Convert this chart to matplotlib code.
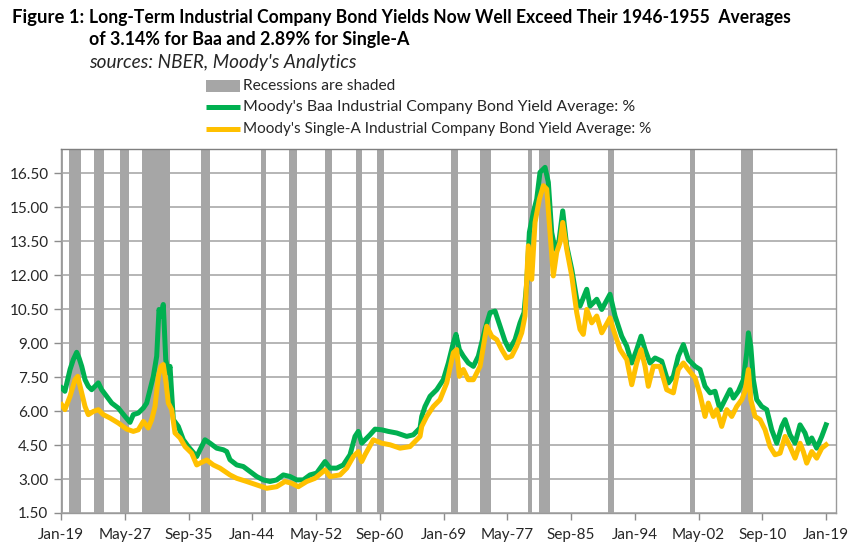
import matplotlib
matplotlib.use("Agg")
import matplotlib.pyplot as plt
from matplotlib.patches import Rectangle
from matplotlib.lines import Line2D
import numpy as np

# ---------------- data (decimal years) ----------------
baa_year = [1919.09, 1919.51, 1920.18, 1920.61, 1921.05, 1921.35, 1921.71, 1922.14, 1922.57, 1923.01,
            1923.44, 1923.88, 1924.32, 1924.97, 1925.63, 1926.49, 1927.37, 1928.02, 1928.45, 1929.10,
            1929.76, 1930.20, 1930.63, 1931.07, 1931.51, 1931.81, 1932.07, 1932.37, 1932.69, 1933.03,
            1933.25, 1933.68, 1934.33, 1934.99, 1935.64, 1936.74, 1937.17, 1937.82, 1938.48, 1939.35,
            1940.22, 1940.66, 1941.09, 1941.97, 1942.83, 1943.71, 1944.58, 1945.44, 1946.32, 1947.19,
            1948.06, 1948.93, 1949.81, 1950.67, 1951.55, 1952.42, 1953.51, 1954.16, 1955.04, 1955.90,
            1956.78, 1957.43, 1957.86, 1958.31, 1958.74, 1959.39, 1960.05, 1960.92, 1961.78, 1962.88,
            1964.19, 1965.05, 1965.93, 1966.15, 1966.58, 1967.24, 1968.11, 1968.97, 1969.63, 1970.28,
            1970.63, 1971.07, 1971.59, 1972.24, 1972.90, 1973.55, 1974.42, 1975.08, 1975.73, 1976.39,
            1977.04, 1977.60, 1978.35, 1979.00, 1979.52, 1979.88, 1980.22, 1980.74, 1981.18, 1981.61,
            1982.27, 1982.70, 1983.14, 1983.58, 1984.01, 1984.58, 1985.10, 1985.76, 1986.41, 1986.84,
            1987.72, 1988.15, 1989.03, 1989.68, 1990.76, 1991.42, 1992.29, 1992.95, 1993.60, 1994.25,
            1994.82, 1995.34, 1995.99, 1996.65, 1997.52, 1998.39, 1999.04, 1999.69, 2000.35, 2001.00,
            2001.88, 2002.53, 2003.18, 2003.84, 2004.49, 2005.14, 2005.80, 2006.45, 2006.89, 2007.54,
            2008.19, 2008.63, 2008.85, 2009.16, 2009.50, 2009.94, 2010.59, 2011.25, 2011.90, 2012.56,
            2013.21, 2013.64, 2014.29, 2014.95, 2015.60, 2016.25, 2016.69, 2017.13, 2017.78, 2018.44,
            2019.00]
baa_value = [7.02, 6.87, 7.83, 8.27, 8.59, 8.35, 7.97, 7.38, 7.09, 6.94,
             7.09, 7.24, 6.94, 6.65, 6.35, 6.13, 5.76, 5.50, 5.84, 5.91,
             6.13, 6.35, 6.94, 7.53, 8.42, 10.48, 10.19, 10.70, 8.27, 7.68,
             7.97, 5.62, 5.32, 4.73, 4.43, 3.99, 4.29, 4.73, 4.58, 4.36,
             4.29, 4.21, 3.85, 3.62, 3.55, 3.33, 3.11, 2.96, 2.89, 2.96,
             3.18, 3.11, 2.96, 2.96, 3.18, 3.26, 3.77, 3.48, 3.48, 3.62,
             4.07, 4.88, 5.10, 4.58, 4.73, 4.95, 5.20, 5.17, 5.10, 5.03,
             4.88, 4.95, 5.25, 5.76, 6.20, 6.65, 6.94, 7.38, 8.12, 9.00,
             9.38, 8.71, 8.42, 8.12, 7.97, 8.42, 9.60, 10.34, 10.41, 9.74,
             9.08, 8.71, 9.15, 9.89, 10.34, 11.66, 13.88, 14.76, 15.35, 16.53,
             16.75, 16.09, 13.88, 13.14, 13.29, 14.83, 13.29, 12.25, 10.93, 10.63,
             11.37, 10.63, 10.93, 10.48, 11.15, 10.19, 9.30, 8.86, 8.12, 8.71,
             9.30, 8.71, 8.12, 8.34, 8.20, 7.24, 7.53, 8.42, 8.93, 8.27,
             7.97, 7.83, 7.09, 6.80, 6.87, 6.06, 6.50, 6.94, 6.57, 6.87,
             7.38, 8.57, 9.45, 8.86, 7.38, 6.50, 6.20, 6.06, 5.17, 4.58,
             5.32, 5.62, 4.95, 4.58, 5.39, 5.03, 4.58, 4.81, 4.36, 4.88,
             5.39]

a_year = [1919.09, 1919.51, 1920.18, 1920.83, 1921.18, 1921.61, 1922.14, 1922.57, 1923.22, 1923.88,
          1924.53, 1925.41, 1926.49, 1927.59, 1928.45, 1929.10, 1929.76, 1930.41, 1930.86, 1931.29,
          1931.72, 1932.07, 1932.37, 1932.73, 1933.03, 1933.47, 1933.90, 1934.56, 1935.21, 1936.08,
          1936.74, 1937.17, 1938.05, 1938.91, 1939.78, 1941.09, 1941.97, 1943.27, 1944.58, 1945.89,
          1947.19, 1948.28, 1949.16, 1950.02, 1951.12, 1952.20, 1953.51, 1954.16, 1955.47, 1956.35,
          1957.21, 1957.86, 1958.31, 1958.74, 1959.82, 1960.92, 1962.01, 1963.31, 1964.62, 1965.93,
          1966.15, 1966.80, 1967.67, 1968.54, 1969.42, 1970.28, 1970.72, 1971.07, 1971.59, 1972.24,
          1972.90, 1973.77, 1974.65, 1975.30, 1975.95, 1976.61, 1977.26, 1977.91, 1978.56, 1979.22,
          1979.65, 1980.08, 1980.53, 1980.96, 1981.53, 1982.05, 1982.49, 1982.92, 1983.35, 1983.79,
          1984.23, 1984.58, 1985.10, 1985.76, 1986.41, 1986.84, 1987.27, 1987.72, 1988.37, 1989.03,
          1989.68, 1990.76, 1991.20, 1992.07, 1992.95, 1993.60, 1994.25, 1994.82, 1995.34, 1995.77,
          1996.42, 1997.30, 1998.17, 1999.04, 1999.69, 2000.35, 2001.00, 2001.88, 2002.53, 2003.18,
          2003.61, 2004.27, 2004.71, 2005.36, 2006.02, 2006.67, 2007.32, 2007.98, 2008.41, 2008.85,
          2009.16, 2009.72, 2010.37, 2011.03, 2011.68, 2012.33, 2012.99, 2013.64, 2014.29, 2014.95,
          2015.60, 2016.03, 2016.47, 2017.13, 2017.78, 2018.44, 2019.00]
a_value = [6.28, 6.06, 6.65, 7.38, 7.53, 6.94, 6.20, 5.84, 5.98, 6.06,
           5.84, 5.69, 5.47, 5.20, 5.10, 5.17, 5.54, 5.25, 5.62, 6.20,
           7.53, 7.97, 8.05, 7.24, 6.35, 6.06, 5.03, 4.81, 4.43, 4.14,
           3.62, 3.70, 3.84, 3.62, 3.48, 3.18, 3.03, 2.89, 2.74, 2.59,
           2.66, 2.89, 2.81, 2.66, 2.89, 3.03, 3.40, 3.11, 3.18, 3.48,
           3.99, 4.21, 3.77, 4.07, 4.73, 4.58, 4.51, 4.36, 4.43, 4.88,
           5.32, 5.76, 6.20, 6.50, 7.24, 8.57, 8.71, 7.53, 7.83, 7.38,
           7.38, 7.97, 9.74, 9.30, 9.15, 8.71, 8.34, 8.42, 8.86, 9.45,
           10.19, 13.29, 11.81, 14.32, 15.35, 15.94, 15.79, 13.88, 11.96, 13.00,
           13.44, 14.32, 13.14, 11.96, 10.34, 9.60, 9.38, 10.48, 9.89, 10.19,
           9.45, 10.11, 9.60, 8.71, 8.27, 7.16, 8.12, 8.71, 7.97, 7.09,
           7.97, 7.97, 6.94, 6.80, 7.83, 8.12, 7.83, 7.46, 6.72, 5.76,
           6.35, 5.76, 6.06, 5.32, 6.06, 5.76, 6.20, 6.50, 6.87, 7.83,
           6.50, 5.76, 5.62, 5.17, 4.43, 4.07, 4.14, 4.88, 4.43, 3.92,
           4.58, 4.21, 3.70, 4.21, 3.92, 4.36, 4.51]

# NBER recessions (first and last month, decimal years)
rec_start = [1919.00, 1920.00, 1923.33, 1926.75, 1929.58, 1937.33, 1945.08, 1948.83, 1953.50,
             1957.58, 1960.25, 1969.92, 1973.83, 1980.00, 1981.50, 1990.50, 2001.17, 2007.92]
rec_end = [1919.17, 1921.50, 1924.50, 1927.83, 1933.17, 1938.42, 1945.75, 1949.75, 1954.33,
           1958.25, 1961.08, 1970.83, 1975.17, 1980.50, 1982.83, 1991.17, 2001.83, 2009.42]

tick_labels = ["Jan-19", "May-27", "Sep-35", "Jan-44", "May-52", "Sep-60", "Jan-69",
               "May-77", "Sep-85", "Jan-94", "May-02", "Sep-10", "Jan-19"]
y_ticks = [1.5, 3.0, 4.5, 6.0, 7.5, 9.0, 10.5, 12.0, 13.5, 15.0, 16.5]

title1 = "Long-Term Industrial Company Bond Yields Now Well Exceed Their 1946-1955  Averages"
title2 = "of 3.14% for Baa and 2.89% for Single-A"
source = "sources: NBER, Moody's Analytics"
leg_labels = ["Recessions are shaded",
              "Moody's Baa Industrial Company Bond Yield Average: %",
              "Moody's Single-A Industrial Company Bond Yield Average: %"]

# ---------------- style ----------------
GREEN = "#00B050"
YELLOW = "#FFC000"
GREY = "#A6A6A6"
FONT = ["Lato", "DejaVu Sans"]
plt.rcParams["font.family"] = FONT

W, H = 852, 550
fig = plt.figure(figsize=(W / 100, H / 100), dpi=100)
fig.patch.set_facecolor("white")

def fx(px):
    return px / W

def fy(py):
    return 1 - py / H

ax = fig.add_axes([fx(61), fy(513), fx(836) - fx(61), fy(149) - fy(513)])

for s, e in zip(rec_start, rec_end):
    ax.axvspan(s, e + 1 / 12, color=GREY, lw=0, zorder=1)

ax.plot(baa_year, baa_value, color=GREEN, lw=3.6, solid_joinstyle="round", zorder=3)
ax.plot(a_year, a_value, color=YELLOW, lw=3.6, solid_joinstyle="round", zorder=4)

ax.set_xlim(1919.0, 2020.3)
ax.set_ylim(1.5, 17.56)
ax.set_yticks(y_ticks)
ax.set_yticklabels([f"{v:.2f}" for v in y_ticks])
xt = [1919 + k * 100 / 12 for k in range(len(tick_labels))]
ax.set_xticks(xt)
ax.set_xticklabels(tick_labels)

ax.grid(axis="y", color="#B0B0B0", lw=1.3, zorder=0)
ax.set_axisbelow(True)
for sp in ax.spines.values():
    sp.set_color("#9A9A9A")
    sp.set_linewidth(1.0)
ax.spines["top"].set_color("#7F7F7F")
ax.tick_params(axis="both", colors="#8C8C8C", length=5, width=1.0, labelsize=11,
               labelcolor="#262626")
ax.tick_params(axis="y", pad=4)
ax.tick_params(axis="x", pad=6)

# ---------------- titles ----------------
renderer = fig.canvas.get_renderer()

def fit_text(x, y, s, width_px, size, **kw):
    t = fig.text(fx(x), fy(y), s, fontsize=size, va="center", ha="left", **kw)
    w = t.get_window_extent(renderer).width
    t.set_fontsize(size * width_px / w)
    return t

TFONT = ["Lato", "DejaVu Sans"]
fit_text(12, 17, "Figure 1:", 72, 12, fontweight="bold", family=TFONT, color="black")
fit_text(89, 17, title1, 700, 12, fontweight="bold", family=TFONT, color="black")
fit_text(89, 40, title2, 320, 12, fontweight="bold", family=TFONT, color="black")
fit_text(89, 62, source, 266, 11, style="italic", family=FONT, color="#262626")

# ---------------- legend ----------------
ys = [86, 107, 129]
fig.add_artist(Rectangle((fx(206), fy(ys[0] + 6)), fx(240) - fx(206), fy(ys[0] - 6) - fy(ys[0] + 6),
                         transform=fig.transFigure, color=GREY, lw=0))
fig.add_artist(Line2D([fx(206), fx(240)], [fy(ys[1]), fy(ys[1])], transform=fig.transFigure,
                      color=GREEN, lw=3.6, solid_capstyle="butt"))
fig.add_artist(Line2D([fx(206), fx(240)], [fy(ys[2]), fy(ys[2])], transform=fig.transFigure,
                      color=YELLOW, lw=3.6, solid_capstyle="butt"))
fit_text(243, ys[0], leg_labels[0], 153, 10, color="#262626")
fit_text(243, ys[1], leg_labels[1], 391, 10, color="#262626")
fit_text(243, ys[2], leg_labels[2], 407, 10, color="#262626")

fig.savefig("out.png", dpi=100, facecolor="white")
